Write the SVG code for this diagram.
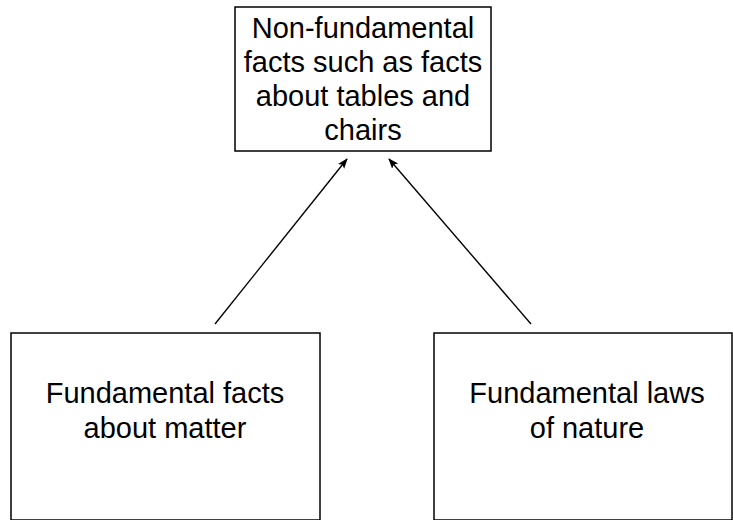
<svg xmlns="http://www.w3.org/2000/svg" width="733" height="520" viewBox="0 0 733 520">
<defs>
<style>
.box{fill:#fff;stroke:#000;stroke-width:1.5}
.t{font-family:"Liberation Sans",Arial,sans-serif;font-size:29px;fill:#000;text-anchor:middle}
.c{stroke:#000;stroke-width:1.4;fill:none;marker-end:url(#ah)}
</style>
<marker id="ah" viewBox="0 0 10 10" refX="9" refY="5" markerWidth="7.5" markerHeight="7.5" orient="auto" markerUnits="strokeWidth">
<path d="M0,1.2 L10,5 L0,8.8 L2,5 z" fill="#000"/>
</marker>
</defs>
<rect width="733" height="520" fill="#fff"/>
<g id="top">
<rect class="box" x="235" y="7" width="256" height="144"/>
<text class="t" x="363" y="38">Non-fundamental</text>
<text class="t" x="363" y="72">facts such as facts</text>
<text class="t" x="363" y="106">about tables and</text>
<text class="t" x="363" y="140">chairs</text>
</g>
<g id="matter">
<rect class="box" x="11" y="333" width="309" height="187"/>
<text class="t" x="165" y="403">Fundamental facts</text>
<text class="t" x="165" y="438">about matter</text>
</g>
<g id="laws">
<rect class="box" x="434" y="333" width="298" height="187"/>
<text class="t" x="587" y="403">Fundamental laws</text>
<text class="t" x="587" y="438">of nature</text>
</g>
<g id="connectors">
<line class="c" x1="215" y1="324" x2="347" y2="159"/>
<line class="c" x1="531" y1="324" x2="389" y2="159"/>
</g>
</svg>
